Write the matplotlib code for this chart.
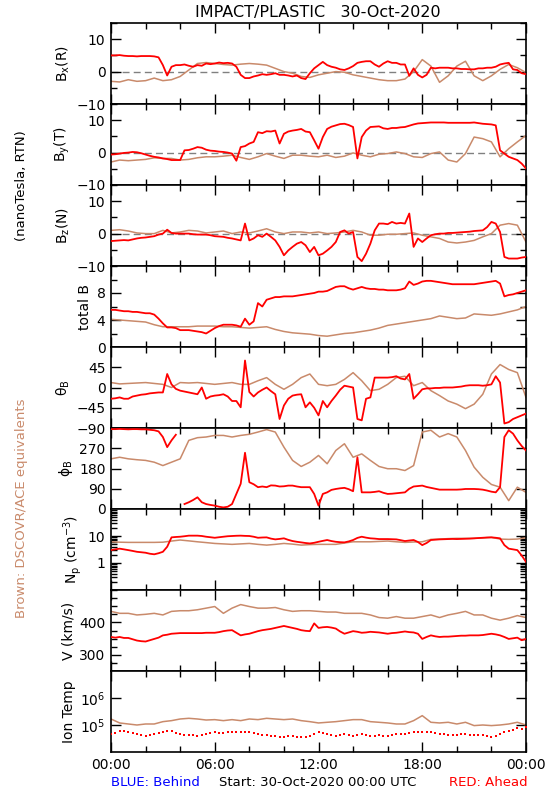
import numpy as np
import matplotlib
matplotlib.use("Agg")
import matplotlib.pyplot as plt
from matplotlib.ticker import FixedLocator, FixedFormatter, LogLocator, NullLocator, MultipleLocator

plt.rcParams['font.family'] = ['DejaVu Sans']
plt.rcParams['mathtext.default'] = 'regular'

RED = '#ff0000'
BROWN = '#c98a6b'

# time grids (hours): STEREO-A every 15 min, DSCOVR/ACE every 30 min
t_red = np.arange(97) * 0.25
t_brn = np.arange(49) * 0.5

# ---- STEREO Ahead (red) ----
bx_red = [5.0, 5.0, 5.1, 4.9, 4.8, 4.8, 4.7, 4.8,
          4.8, 4.8, 4.7, 4.4, 2.0, -1.2, 1.5, 2.0,
          2.0, 2.2, 1.8, 1.5, 2.0, 1.8, 2.5, 2.3,
          2.5, 2.8, 2.6, 2.7, 2.5, 1.5, -1.0, -2.0,
          -2.0, -1.5, -1.2, -0.8, -1.0, -0.8, -0.5, -1.0,
          -1.0, -1.2, -1.5, -1.2, -2.0, -2.3, -0.5, 1.0,
          2.0, 3.0, 2.0, 1.5, 1.2, 0.7, 0.5, 1.0,
          1.7, 2.7, 3.0, 3.2, 3.2, 2.2, 1.5, 2.5,
          3.2, 2.7, 2.7, 2.2, 2.2, -1.3, 1.0, -1.0,
          -1.8, -1.0, 1.2, 1.0, 1.2, 1.2, 1.2, 1.0,
          1.0, 0.8, 0.8, 0.7, 0.7, 1.0, 1.0, 1.2,
          1.2, 1.5, 2.2, 2.5, 2.7, 0.7, 0.5, -0.5,
          -0.8]
by_red = [-0.6, -0.5, -0.3, -0.1, 0.0, 0.2, 0.1, -0.2,
          -0.6, -1.0, -1.3, -1.5, -1.8, -2.0, -2.3, -2.3,
          -2.3, 0.7, 0.8, 1.2, 1.7, 1.5, 0.9, 0.6,
          0.5, 0.3, 0.2, 0.0, -0.3, -2.5, 1.7, 2.0,
          2.8, 3.3, 6.3, 6.0, 6.6, 6.5, 6.8, 2.8,
          5.8, 6.5, 6.8, 7.0, 7.3, 6.5, 6.3, 3.8,
          1.2, 4.8, 7.3, 8.0, 8.4, 8.8, 8.9, 8.5,
          7.9, -1.8, 4.8, 6.8, 7.9, 8.0, 8.1, 7.5,
          7.3, 7.6, 7.6, 7.8, 7.9, 8.3, 8.7, 9.0,
          9.1, 9.2, 9.3, 9.3, 9.3, 9.3, 9.2, 9.2,
          9.2, 9.2, 9.2, 9.2, 9.3, 9.1, 8.9, 8.8,
          8.7, 8.4, 0.7, -0.3, -1.3, -1.8, -2.3, -3.4,
          -4.9]
bz_red = [-2.3, -2.2, -2.1, -2.0, -2.1, -1.8, -1.5, -1.3,
          -1.2, -1.0, -0.8, -0.3, 0.0, 1.2, 0.2, 0.0,
          0.0, 0.0, 0.0, -0.2, -0.3, -0.3, -0.3, -0.5,
          -0.8, -0.9, -1.0, -1.3, -1.5, -1.8, -2.1, 3.1,
          -2.1, -1.5, -0.5, -1.0, 0.0, -1.0, -2.1, -4.1,
          -6.7, -5.2, -4.1, -3.1, -2.6, -3.6, -5.7, -4.1,
          -6.7, -6.2, -5.2, -4.1, -2.6, 0.5, 1.0, 0.0,
          0.5, -7.2, -8.5, -6.2, -3.1, 1.0, 3.1, 3.1,
          2.9, 3.6, 3.1, 3.3, 3.1, 6.2, -4.1, -1.5,
          -2.6, -1.5, -0.5, -0.2, 0.0, 0.0, 0.2, 0.2,
          0.3, 0.4, 0.5, 0.6, 0.8, 0.9, 1.0, 2.0,
          3.6, 3.1, 0.5, -7.2, -7.7, -7.7, -7.7, -7.4,
          -7.2]
bt_red = [5.5, 5.5, 5.4, 5.3, 5.3, 5.2, 5.2, 5.1,
          5.0, 5.0, 4.8, 4.2, 3.5, 2.9, 2.9, 2.8,
          2.5, 2.5, 2.5, 2.4, 2.3, 2.2, 2.0, 2.4,
          2.8, 3.1, 3.3, 3.3, 3.3, 3.2, 3.0, 4.2,
          3.3, 3.8, 6.5, 6.0, 7.0, 7.2, 7.4, 7.4,
          7.5, 7.5, 7.5, 7.6, 7.7, 7.8, 7.9, 8.0,
          8.2, 8.2, 8.3, 8.6, 8.9, 9.0, 9.0, 8.7,
          8.5, 8.7, 8.9, 8.7, 8.6, 8.6, 8.5, 8.5,
          8.4, 8.4, 8.4, 8.5, 8.7, 9.7, 9.2, 9.4,
          9.7, 9.8, 9.8, 9.7, 9.6, 9.5, 9.4, 9.3,
          9.3, 9.3, 9.3, 9.3, 9.3, 9.4, 9.5, 9.6,
          9.7, 9.8, 9.4, 7.5, 7.7, 7.8, 8.0, 8.2,
          8.4]
theta_red = [-25, -24, -22, -25, -25, -20, -18, -16,
             -15, -13, -12, -11, -11, 30, 7, -3,
             -7, -9, -11, -13, -15, 0, -25, -20,
             -18, -17, -15, -20, -30, -30, -44, 60,
             -10, -20, -11, -5, 0, -8, -15, -70,
             -40, -25, -18, -16, -15, -44, -33, -45,
             -62, -30, -44, -30, -18, -5, 4, 2,
             0, -70, -73, -25, -22, 22, 22, 22,
             22, 23, 25, 20, 18, 30, -25, -15,
             -4, -2, -2, -1, -1, 0, 0, 0,
             1, 2, 4, 5, 5, 5, 4, 5,
             7, 25, 11, -80, -77, -70, -66, -62,
             -58]
phi_red = [355, 355, 356, 355, 354, 355, 355, 354,
           354, 352, 350, 345, 320, 275, 305, 330,
           np.nan, 22, 30, 40, 52, 30, 22, 18,
           15, 10, 7, 10, 22, 67, 112, 250,
           119, 110, 97, 100, 97, 105, 104, 100,
           101, 104, 104, 100, 97, 97, 97, 67,
           15, 67, 74, 85, 89, 92, 94, 88,
           79, 230, 74, 74, 74, 76, 79, 72,
           67, 68, 70, 72, 74, 90, 100, 102,
           104, 98, 94, 90, 86, 86, 86, 86,
           86, 87, 89, 89, 89, 88, 86, 82,
           77, 74, 97, 320, 350, 335, 305, 280,
           260]
np_red = [3.0, 3.2, 3.4, 3.2, 3.0, 2.8, 2.6, 2.5,
          2.4, 2.2, 2.1, 2.3, 2.6, 4.0, 8.9, 9.2,
          9.4, 9.8, 10.3, 10.3, 10.3, 10.0, 9.4, 9.0,
          8.6, 9.0, 9.4, 9.8, 10.0, 10.2, 10.3, 10.1,
          10.0, 9.4, 8.6, 8.8, 8.9, 8.0, 7.5, 7.8,
          8.2, 7.2, 6.5, 6.1, 5.8, 5.5, 5.3, 5.6,
          6.1, 6.6, 7.1, 6.5, 6.1, 5.9, 5.8, 6.3,
          7.1, 8.5, 9.4, 8.7, 8.2, 8.0, 7.7, 7.7,
          7.7, 7.6, 7.5, 7.0, 6.5, 6.8, 7.1, 6.0,
          4.6, 5.5, 7.1, 7.3, 7.5, 7.6, 7.7, 7.8,
          7.7, 7.8, 7.9, 8.0, 8.2, 8.4, 8.6, 8.8,
          8.9, 8.6, 8.2, 4.6, 3.4, 3.2, 3.0, 1.9,
          1.1]
v_red = [355, 353, 355, 352, 352, 348, 344, 342,
         341, 345, 349, 353, 360, 362, 365, 366,
         367, 367, 367, 367, 367, 367, 368, 368,
         368, 370, 373, 375, 376, 368, 360, 363,
         365, 369, 373, 376, 378, 380, 383, 386,
         389, 386, 383, 380, 376, 374, 373, 397,
         383, 385, 386, 384, 381, 372, 365, 369,
         373, 371, 368, 369, 371, 370, 369, 367,
         365, 367, 368, 370, 372, 370, 369, 365,
         349, 355, 360, 357, 355, 356, 356, 357,
         358, 359, 359, 360, 360, 360, 361, 363,
         365, 363, 360, 355, 349, 351, 353, 345,
         349]
# ion temperature, units of 1e4 K
temp_red = [4.6, 5.2, 6.2, 5.8, 5.4, 5.0, 4.6, 4.4,
            4.0, 4.3, 4.6, 5.0, 5.4, 5.8, 6.2, 5.2,
            4.6, 4.4, 4.3, 4.1, 4.0, 4.3, 4.6, 5.0,
            5.4, 5.1, 4.9, 5.3, 5.7, 5.5, 5.4, 5.5,
            5.7, 5.1, 4.6, 4.4, 4.3, 4.0, 3.8, 3.6,
            3.5, 3.8, 4.0, 3.7, 3.5, 3.6, 3.8, 4.6,
            5.4, 5.0, 4.6, 4.3, 4.0, 4.3, 4.6, 4.3,
            4.0, 4.3, 4.6, 4.2, 3.8, 4.0, 4.3, 4.0,
            3.8, 4.3, 4.6, 4.6, 4.6, 5.1, 5.7, 5.5,
            5.4, 5.4, 5.4, 5.0, 4.6, 4.5, 4.4, 4.4,
            4.4, 4.5, 4.6, 4.4, 4.3, 4.3, 4.3, 4.0,
            3.5, 4.0, 4.6, 5.3, 6.2, 6.8, 7.5, 7.0,
            8.2]

# ---- DSCOVR/ACE equivalents (brown) ----
bx_brn = [-3.0, -3.2, -2.5, -3.0, -2.8, -2.0, -2.8, -2.5,
          -1.5, 0.5, 2.5, 2.8, 2.5, 2.2, 2.0, 2.3,
          2.5, 2.3, 2.0, 1.0, 0.0, -0.5, -1.5, -1.8,
          -1.0, -0.5, 0.0, -0.2, -1.0, -1.5, -2.0, -2.5,
          -2.8, -2.8, -2.3, 0.0, 3.7, 1.7, -3.3, -1.3,
          1.7, 3.2, -1.3, -2.8, -1.3, 0.7, 2.2, 1.2,
          -0.3]
by_brn = [-2.9, -2.3, -2.5, -2.3, -2.1, -1.6, -1.8, -1.8,
          -2.3, -2.1, -1.6, -1.3, -1.3, -1.1, -0.8, -1.5,
          -2.1, -1.3, -0.3, -1.1, -1.8, -0.8, -0.8, -1.1,
          -1.3, -0.8, -1.5, -1.1, -0.1, -0.8, -1.3, -0.5,
          -0.3, 0.2, -0.3, -1.3, -1.5, -0.3, 0.2, -2.3,
          -2.9, -0.3, 4.8, 4.3, 3.3, -1.3, 1.2, 3.3,
          5.3]
bz_brn = [1.0, 1.2, 0.8, 0.2, 0.0, 0.0, 1.0, 0.2,
          0.5, 1.0, 0.8, 0.2, 0.5, 0.8, 0.0, 0.5,
          0.2, 0.8, 1.5, 0.5, 0.0, 0.5, 0.5, 0.2,
          0.5, 0.0, 0.2, 0.5, 1.0, 0.5, -0.5, -0.5,
          -0.2, -0.2, 0.0, 0.2, -0.5, -1.0, -1.5, -2.6,
          -2.9, -2.6, -2.1, -1.0, 0.0, 2.6, 3.1, 2.6,
          -2.6]
bt_brn = [4.1, 4.0, 3.9, 3.8, 3.7, 3.3, 3.0, 3.0,
          3.0, 3.0, 3.1, 3.1, 3.1, 3.0, 3.0, 2.9,
          2.8, 2.9, 3.0, 2.6, 2.3, 2.1, 2.0, 1.9,
          1.7, 1.6, 1.8, 2.0, 2.1, 2.3, 2.5, 2.8,
          3.2, 3.4, 3.6, 3.8, 4.0, 4.2, 4.6, 4.4,
          4.2, 4.3, 4.9, 4.8, 4.7, 4.9, 5.2, 5.5,
          6.0]
theta_brn = [11, 8, 9, 10, 11, 9, 7, 0,
             11, 10, 11, 9, 7, 9, 11, 7,
             7, 15, 22, 7, -4, 7, 22, 30,
             7, 4, 7, 18, 33, 15, -7, -4,
             7, 22, 25, 4, 11, -7, -18, -30,
             -37, -47, -37, -15, 30, 51, 40, 33,
             -22]
phi_brn = [223, 230, 223, 219, 216, 208, 193, 208,
           223, 305, 317, 320, 327, 327, 320, 327,
           332, 342, 353, 342, 275, 216, 189, 208,
           238, 201, 260, 290, 230, 245, 216, 189,
           179, 179, 171, 193, 342, 350, 320, 335,
           320, 260, 186, 141, 109, 97, 37, 97,
           74]
np_brn = [6.1, 5.9, 5.8, 5.8, 5.8, 5.8, 5.9, 6.5,
          7.1, 6.6, 6.1, 5.7, 5.3, 5.1, 4.9, 5.1,
          5.3, 4.9, 4.6, 4.9, 5.3, 5.0, 4.6, 4.8,
          4.9, 4.9, 4.9, 5.5, 6.1, 6.1, 6.1, 6.3,
          6.5, 6.1, 5.8, 6.0, 6.1, 7.5, 7.7, 8.0,
          8.2, 8.2, 8.2, 8.5, 8.9, 7.7, 7.5, 7.7,
          8.6]
v_brn = [434, 428, 428, 423, 425, 428, 423, 434,
         436, 436, 439, 444, 449, 428, 444, 455,
         449, 444, 444, 446, 439, 434, 436, 436,
         434, 432, 432, 428, 428, 428, 423, 415,
         413, 418, 413, 413, 418, 423, 415, 423,
         428, 434, 423, 423, 413, 407, 413, 421,
         415]
# ion temperature, units of 1e5 K
temp_brn = [1.67, 1.19, 1.09, 1.00, 1.09, 1.09, 1.33, 1.45,
            1.67, 1.77, 1.67, 1.53, 1.58, 1.45, 1.58, 1.45,
            1.67, 1.58, 1.77, 1.67, 1.58, 1.67, 1.45, 1.33,
            1.19, 1.26, 1.33, 1.45, 1.58, 1.58, 1.33, 1.26,
            1.19, 1.09, 1.09, 1.45, 2.22, 1.26, 1.19, 1.26,
            1.09, 1.26, 0.95, 1.00, 0.95, 1.00, 1.09, 1.26,
            1.00]

time_ticks = [0, 6, 12, 18, 24]
time_labels = ['00:00', '06:00', '12:00', '18:00', '00:00']

panels = [
    dict(label='B$_x$(R)', red=bx_red, brn=bx_brn, ylim=(-10, 15),
         major=[-10, 0, 10], labels=['\u221210', '0', '10'], minor=5, zero=True),
    dict(label='B$_y$(T)', red=by_red, brn=by_brn, ylim=(-10, 15),
         major=[-10, 0, 10], labels=['\u221210', '0', '10'], minor=5, zero=True),
    dict(label='B$_z$(N)', red=bz_red, brn=bz_brn, ylim=(-10, 15),
         major=[-10, 0, 10], labels=['\u221210', '0', '10'], minor=5, zero=True),
    dict(label='total B', red=bt_red, brn=bt_brn, ylim=(0, 12),
         major=[0, 4, 8], labels=['0', '4', '8'], minor=2),
    dict(label=r'$\theta_B$', red=theta_red, brn=theta_brn, ylim=(-90, 90),
         major=[-90, -45, 0, 45], labels=['\u221290', '\u221245', '0', '45'], minor=None),
    dict(label=r'$\phi_B$', red=phi_red, brn=phi_brn, ylim=(0, 360),
         major=[0, 90, 180, 270], labels=['0', '90', '180', '270'], minor=None),
    dict(label='N$_p$ (cm$^{-3}$)', red=np_red, brn=np_brn, ylim=(0.1, 100), log=True,
         major=[1, 10], labels=['1', '10'], minor='log'),
    dict(label='V (km/s)', red=v_red, brn=v_brn, ylim=(250, 500),
         major=[300, 400], labels=['300', '400'], minor=25),
    dict(label='Ion Temp', red=np.array(temp_red) * 1e4, brn=np.array(temp_brn) * 1e5,
         ylim=(1e4, 1e7), log=True, major=[1e5, 1e6], labels=['10$^5$', '10$^6$'],
         minor=None, dots=True),
]

W, H = 550, 800
left, right = 111, 526
top0, ph = 23, 81

fig = plt.figure(figsize=(W / 100, H / 100), dpi=100)

for i, p in enumerate(panels):
    y_top = top0 + i * ph
    ax = fig.add_axes([left / W, 1 - (y_top + ph) / H, (right - left) / W, ph / H])
    if p.get('log'):
        ax.set_yscale('log')
    if p.get('zero'):
        ax.axhline(0, color='#808080', lw=1.0, ls=(0, (5, 3)), zorder=1)
    ax.plot(t_brn, p['brn'], color=BROWN, lw=1.1, zorder=2)
    if p.get('dots'):
        ax.plot(t_red, p['red'], ls='none', marker='s', ms=1.6, mew=0,
                color=RED, zorder=3)
    else:
        ax.plot(t_red, p['red'], color=RED, lw=1.3, zorder=3)

    ax.set_xlim(0, 24)
    ax.set_ylim(*p['ylim'])
    ax.yaxis.set_major_locator(FixedLocator(p['major']))
    ax.yaxis.set_major_formatter(FixedFormatter(p['labels']))
    if p['minor'] == 'log':
        ax.yaxis.set_minor_locator(LogLocator(base=10, subs=np.arange(2, 10)))
    elif p['minor'] is None:
        ax.yaxis.set_minor_locator(NullLocator())
    else:
        ax.yaxis.set_minor_locator(MultipleLocator(p['minor']))
    ax.yaxis.set_minor_formatter(FixedFormatter([]))

    ax.set_xticks(time_ticks)
    ax.xaxis.set_minor_locator(MultipleLocator(2))
    if i == len(panels) - 1:
        ax.set_xticklabels(time_labels)
    else:
        ax.set_xticklabels([])

    ax.tick_params(which='both', direction='in', top=True, right=True,
                   labelsize=10, width=1.0, pad=4)
    ax.tick_params(which='major', length=7)
    ax.tick_params(which='minor', length=4)
    for s in ax.spines.values():
        s.set_linewidth(1.2)
    ax.set_ylabel(p['label'], fontsize=10, labelpad=3)

fig.text(318 / W, 1 - 12 / H, 'IMPACT/PLASTIC   30-Oct-2020', ha='center', va='center',
         fontsize=11.5)
fig.text(22 / W, 1 - 186 / H, '(nanoTesla, RTN)', rotation=90, ha='center',
         va='center', fontsize=9.5)
fig.text(22 / W, 1 - 508 / H, 'Brown: DSCOVR/ACE equivalents', rotation=90,
         ha='center', va='center', fontsize=9.5, color=BROWN)
fig.text(155 / W, 1 - 783 / H, 'BLUE: Behind', ha='center', va='center',
         fontsize=9.5, color='#0000ff')
fig.text(318 / W, 1 - 783 / H, 'Start: 30-Oct-2020 00:00 UTC', ha='center',
         va='center', fontsize=9.5)
fig.text(488 / W, 1 - 783 / H, 'RED: Ahead', ha='center', va='center',
         fontsize=9.5, color=RED)

fig.savefig('out.png', dpi=100)
